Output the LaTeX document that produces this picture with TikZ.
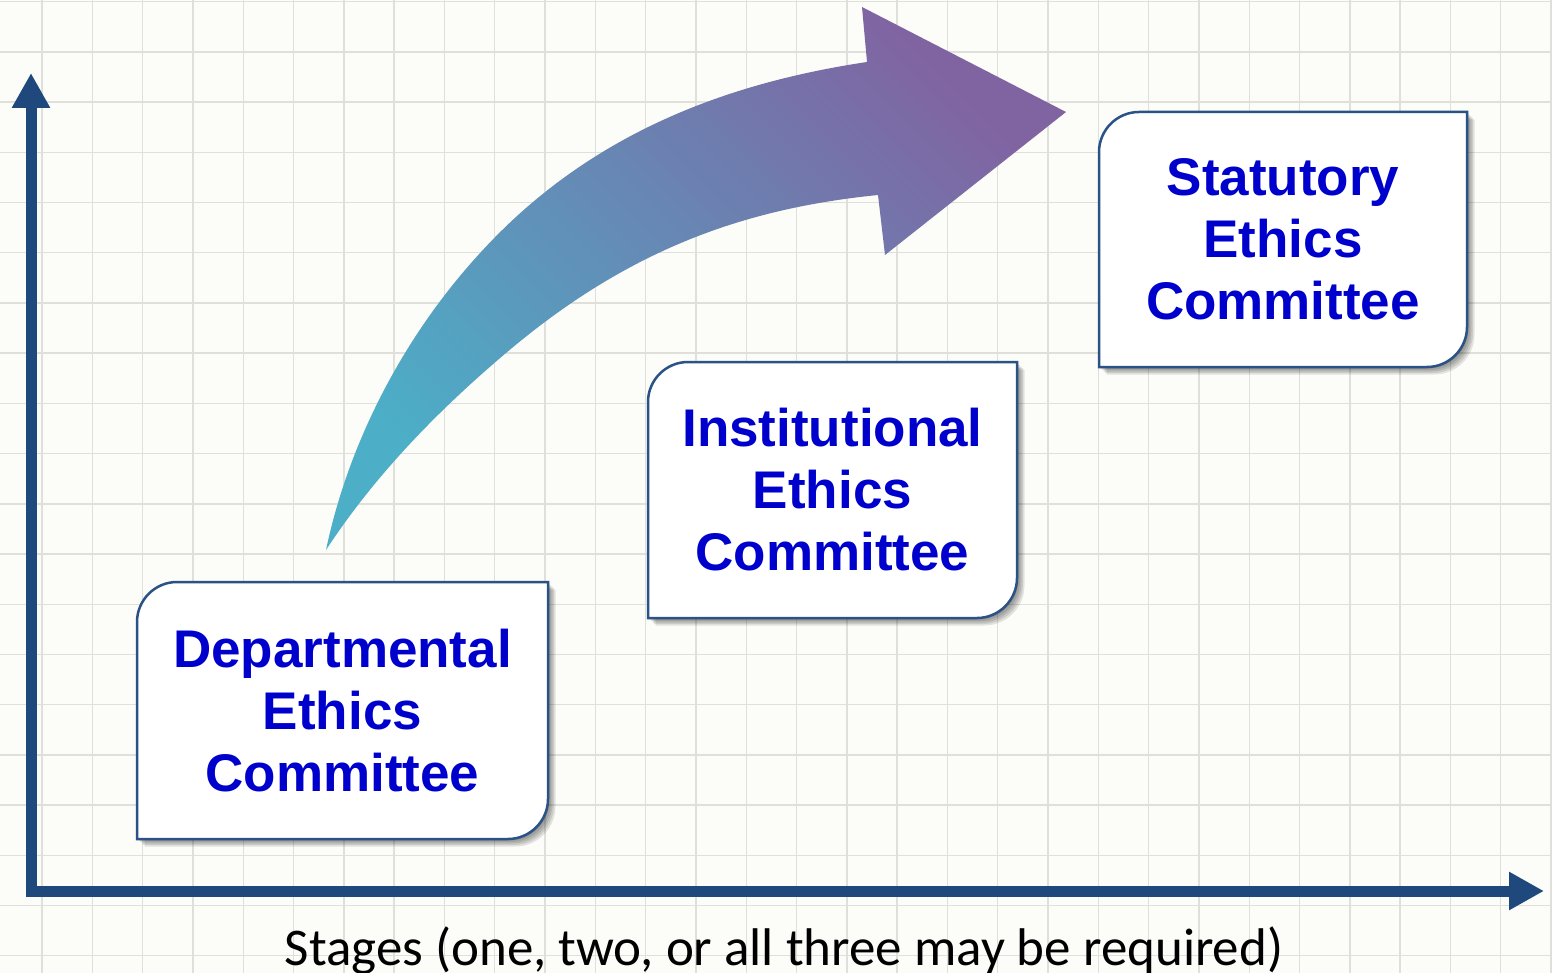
\documentclass[tikz,border=0pt]{standalone}
\usepackage{fontspec}
\setmainfont{Liberation Sans}
\newfontfamily\calibrifont{Carlito}
\usetikzlibrary{arrows.meta}
\definecolor{bgc}{HTML}{FCFCF8}
\definecolor{gridc}{HTML}{E0E0DB}
\definecolor{axisc}{HTML}{1F497D}
\definecolor{boxc}{HTML}{2A5286}
\definecolor{txtblue}{HTML}{0000CC}
\definecolor{arrstart}{HTML}{4CAEC7}
\definecolor{arrend}{HTML}{8064A2}
\tikzset{
  gridline/.style={draw=gridc, line width=1.4pt},
  axisline/.style={draw=axisc, line width=11pt, -{Triangle[length=35pt,width=36pt]}},
  boxtext/.style={font=\bfseries\fontsize{53}{62}\selectfont, text=txtblue, align=center, inner sep=0pt},
  boxframe/.style={draw=boxc, line width=2.5pt, fill=white},
  boxshadow/.style={fill=black, fill opacity=0.10, draw=none},
  stagetext/.style={font=\calibrifont\fontsize{53}{60}\selectfont, text=black, inner sep=0pt, anchor=base}
}
\newcommand\ccboxpath[4]{(#1,#4) -- (#1,#2+40) .. controls (#1,#2+18) and (#1+18,#2) .. (#1+40,#2) -- (#3,#2) -- (#3,#4-40) .. controls (#3,#4-18) and (#3-18,#4) .. (#3-40,#4) -- cycle}
\newcommand\ccbox[4]{%
  \foreach \s in {1.5,3,4.5,6,7.5}{\fill[boxshadow, xshift=\s pt, yshift=-\s pt] \ccboxpath{#1}{#2}{#3}{#4};}
  \path[boxframe] \ccboxpath{#1}{#2}{#3}{#4};
}
\begin{document}
\begin{tikzpicture}[x=1pt,y=-1pt]
\useasboundingbox (0,0) rectangle (1552,973);
\fill[bgc] (0,0) rectangle (1552,973);
% grid
\foreach \i in {0,...,31} \draw[gridline] ({42+50.3*(\i-1)},0) -- ({42+50.3*(\i-1)},973);
\foreach \j in {0,...,20} \draw[gridline] (0,{1.8+50.2*\j}) -- (1552,{1.8+50.2*\j});
% axes
\coordinate (ybot) at (31,896.5);
\coordinate (ytop) at (31,73);
\coordinate (xbeg) at (25.5,891);
\coordinate (xend) at (1544,891);
\draw[axisline] (ybot) -- (ytop);
\draw[axisline] (xbeg) -- (xend);
% curved arrow
\shade[bottom color=arrstart, top color=arrend, shading angle=-45]
  (326,550) .. controls (349,440.5) and (405,334.4) .. (481,252)
  .. controls (589,134) and (725.6,83.2) .. (867,62)
  -- (862,7) -- (1066,112) -- (885,255) -- (878,195)
  .. controls (744,208.5) and (628,249.5) .. (506,353)
  .. controls (438,410.6) and (375,475) .. (326,550) -- cycle;
% boxes
\ccbox{137}{582}{548}{839}
\ccbox{648}{362}{1017}{618}
\ccbox{1099}{112}{1467}{367}
\node[boxtext] (dep) at (342.5,710.5) {Departmental\\Ethics\\Committee};
\node[boxtext] (inst) at (832.5,490) {Institutional\\Ethics\\Committee};
\node[boxtext] (stat) at (1283,239.5) {Statutory\\Ethics\\Committee};
\node[stagetext] (stages) at (784,965) {Stages (one, two, or all three may be required)};
\end{tikzpicture}
\end{document}
